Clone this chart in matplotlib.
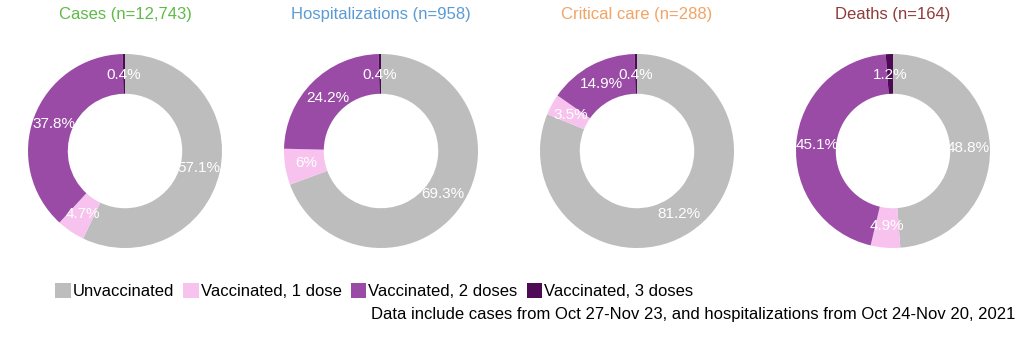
import numpy as np
import matplotlib.pyplot as plt
from matplotlib.patches import Patch

plt.rcParams['font.family'] = ['Liberation Sans', 'DejaVu Sans']

# Dane: udział statusu szczepienia w każdej grupie (%)
titles = ["Cases (n=12,743)", "Hospitalizations (n=958)", "Critical care (n=288)", "Deaths (n=164)"]
title_colors = ["#5DBB46", "#5B9BD5", "#F2A465", "#8E3B3B"]
categories = ["Unvaccinated", "Vaccinated, 1 dose", "Vaccinated, 2 doses", "Vaccinated, 3 doses"]
cat_colors = ["#BDBDBD", "#F8C2EE", "#9A4BA6", "#4E0A55"]
cases = [57.1, 4.7, 37.8, 0.4]
hospitalizations = [69.3, 6, 24.2, 0.4]
critical_care = [81.2, 3.5, 14.9, 0.4]
deaths = [48.8, 4.9, 45.1, 1.2]
series = [cases, hospitalizations, critical_care, deaths]
note = "Data include cases from Oct 27-Nov 23, and hospitalizations from Oct 24-Nov 20, 2021"

W, H = 1024, 341
fig = plt.figure(figsize=(W / 100, H / 100), dpi=100)

centers_x = [125, 381, 637, 893]
cy = 151
R = 97

for cx, vals, title, tcol in zip(centers_x, series, titles, title_colors):
    ax = fig.add_axes([(cx - R) / W, (H - cy - R) / H, 2 * R / W, 2 * R / H])
    ax.pie(vals, colors=cat_colors, startangle=90, counterclock=False,
           radius=1, wedgeprops=dict(width=0.41, linewidth=0))
    # Etykiety procentowe w środku pierścienia
    total = sum(vals)
    start = 0.0
    for v in vals:
        mid = start + v / 2
        theta = np.radians(90 - 360 * mid / total)
        ax.text(0.78 * np.cos(theta), 0.78 * np.sin(theta), f"{v:g}%",
                ha='center', va='center', color='white', fontsize=11)
        start += v
    ax.set_xlim(-1, 1)
    ax.set_ylim(-1, 1)
    ax.set_aspect('equal')
    ax.axis('off')
    fig.text(cx / W, 1 - 14 / H, title, ha='center', va='center', color=tcol, fontsize=12)

handles = [Patch(facecolor=c, edgecolor='none') for c in cat_colors]
fig.legend(handles, categories, loc='upper left', bbox_to_anchor=(55 / W, 1 - 283 / H),
           ncol=4, frameon=False, fontsize=12, handlelength=0.95, handleheight=1.0,
           handletextpad=0.1, columnspacing=0.55, borderpad=0, borderaxespad=0)

fig.text(1015 / W, 1 - 314 / H, note, ha='right', va='center', fontsize=12)

fig.savefig("out.png", dpi=100)
